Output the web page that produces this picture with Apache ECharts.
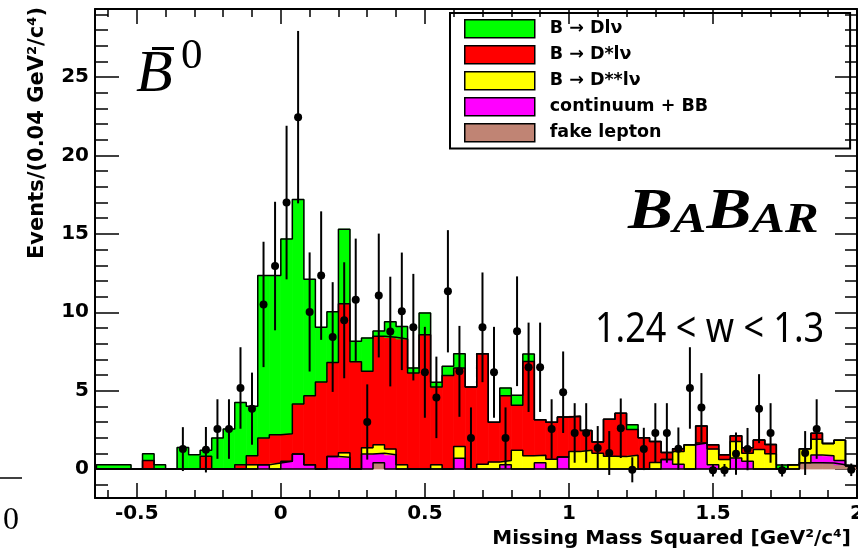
<!DOCTYPE html>
<html>
<head>
<meta charset="utf-8">
<script src="https://cdn.jsdelivr.net/npm/echarts@6/dist/echarts.min.js"></script>
<style>
  html, body { margin: 0; padding: 0; background: #fff; }
  #chart { width: 858px; height: 552px; }
</style>
</head>
<body>
<div id="chart"></div>
<script>
// binning of the missing mass squared histogram (GeV^2/c^4)
const binLow = -0.64
const binWidth = 0.04

// MC components per bin, stacking order bottom -> top
const fakeLepton = [0,0,0,0,0,0,0,0,0,0, 0,0,0,0,0,0,0,0,0,0, 0,0,0,0,0.4,0,0,0,0,0, 0,0,0,0,0,0,0,0,0,0, 0,0,0,0,0,0,0,0,0,0, 0,0,0,0,0,0,0,0,0,0, 0,0.4,0.4,0.38,0.27,0.2]
const continuum = [0,0,0,0,0,0,0,0,0,0, 0,0,0,0,0.27,0,0.49,0.95,0.27,0, 0.8,0.75,0,0.95,0.6,0.91,0,0,0,0, 0,0.68,0,0,0,0.27,0,0,0.4,0, 0.76,0,0,0,0,0,0,0,0,0.6, 0.3,0,1.66,0.27,0,0.7,0.49,0,0,0, 0,0,0.5,0.47,0.28,0]
const dssLnu = [0,0,0,0,0,0,0,0,0,0, 0,0,0,0.27,0,0.38,0,0,0,0, 0,0.28,0,0.4,0.55,0.37,0.27,0,0,0.27, 0,0.76,0,0.3,0.45,0.28,1.19,0.85,0.48,0.62, 0,1.12,1.19,1.0,0.82,0.8,0.88,0,0.42,0, 0.82,1.55,0,1.0,0.6,1.06,0.51,1.25,0.98,0, 0.27,0.9,1.0,0.78,1.29,0]
const dstLnu = [0,0,0,0,0.55,0,0,0,0,0.81, 0,0,0.27,0.58,1.71,1.81,1.76,3.2,4.41,5.55, 6.0,9.52,6.85,4.88,6.92,7.12,8.03,6.13,8.57,4.96, 5.96,5.01,5.23,7.06,2.53,4.13,2.87,6.01,2.27,2.36, 2.56,2.24,1.26,0.73,2.35,2.75,1.64,2.0,1.34,0.46, 0.18,0,1.08,0.28,0.31,0.36,0.36,0.6,0.59,0, 0,0,0.38,0,0,0]
const dLnu = [0.27,0.27,0.27,0,0.43,0.27,0,1.38,0.91,0.38, 1.98,2.55,3.98,3.15,10.36,10.15,12.43,13.05,7.42,3.49, 3.23,4.75,1.3,2.13,0.33,1.0,0.8,0.32,1.39,0.3, 0.59,0.91,0,0,0,0.49,0.64,0.47,0,0, 0,0,0,0,0,0,0.31,0,0,0, 0,0,0,0,0,0,0,0,0,0.25, 0,0,0,0,0,0]

// data points per bin (null = no marker)
const dataVal = [null,null,null,null,null,null,null,1.27,null,1.23, 2.55,2.55,5.17,3.85,10.5,12.95,17.0,22.45,10.02,12.34, 8.42,9.49,10.8,3.0,11.07,8.77,10.06,9.05,6.17,4.57, 11.34,6.23,1.98,9.04,6.17,1.98,8.79,6.49,6.49,2.55, 4.9,2.3,2.3,1.34,1.02,2.6,-0.05,1.28,2.3,2.3, 1.3,5.17,3.92,-0.08,-0.08,0.98,1.27,3.85,2.3,-0.08, null,1.02,2.55,null,null,-0.05]
const dataErr = [null,null,null,null,null,null,null,1.4,null,1.45, 1.9,1.9,2.6,2.3,4.0,4.1,4.9,5.5,3.8,4.1, 3.5,3.7,3.9,2.4,3.95,3.5,3.75,3.4,2.9,2.6, 3.9,2.9,1.95,3.5,2.9,1.95,3.5,2.85,2.85,1.9, 2.6,1.9,1.9,1.4,1.4,1.9,0.8,1.35,1.9,1.9, 1.35,2.6,2.2,0.4,0.4,1.35,1.35,2.2,1.9,0.4, null,1.4,1.9,null,null,0.4]

const names = ['fake lepton', 'continuum + BB', 'B → D**lν', 'B → D*lν', 'B → Dlν']
const colors = ['#c08474', '#ff00ff', '#ffff00', '#ff0000', '#00ff00']
const components = [fakeLepton, continuum, dssLnu, dstLnu, dLnu]

const xMajor = [-0.5, 0, 0.5, 1, 1.5, 2]
const xMinor = [-0.6,-0.5,-0.4,-0.3,-0.2,-0.1,0,0.1,0.2,0.3,0.4,0.5,0.6,0.7,0.8,0.9,1,1.1,1.2,1.3,1.4,1.5,1.6,1.7,1.8,1.9,2]
const yMajor = [0, 5, 10, 15, 20, 25]
const yMinor = [-1,0,1,2,3,4,5,6,7,8,9,10,11,12,13,14,15,16,17,18,19,20,21,22,23,24,25,26,27,28,29]

const xMin = -0.645, xMax = 2.0
const yMin = -1.85, yMax = 29.35

const nBins = fakeLepton.length
const edges = []
for (let i = 0; i <= nBins; i++) edges.push(+(binLow + i * binWidth).toFixed(2))

// cumulative stack (like THStack): level[k][i] = sum of components 0..k in bin i
const levels = []
components.forEach((vals, k) => {
  levels.push(vals.map((v, i) => +((k ? levels[k - 1][i] : 0) + v).toFixed(3)))
})

// outline of one cumulative histogram as a step line
function stepData(vals) {
  const pts = [[edges[0], 0]]
  vals.forEach((v, i) => pts.push([edges[i], v]))
  pts.push([edges[nBins], vals[nBins - 1]])
  pts.push([edges[nBins], 0])
  return pts
}

function renderBin(params, api) {
  const a = api.coord([api.value(0), api.value(3)])
  const b = api.coord([api.value(1), api.value(2)])
  if (Math.abs(b[1] - a[1]) < 0.01) return null
  const color = api.visual('color')
  return {
    type: 'rect',
    shape: { x: a[0], y: a[1], width: b[0] - a[0], height: b[1] - a[1] },
    style: { fill: color, stroke: color, lineWidth: 0.8 }
  }
}

const series = []
components.forEach((vals, k) => {
  const rows = vals.map((v, i) => [edges[i], edges[i + 1], k ? levels[k - 1][i] : 0, levels[k][i]])
  series.push({
    name: names[k], type: 'custom', renderItem: renderBin, data: rows,
    dimensions: ['x0', 'x1', 'lo', 'hi'], encode: { x: [0, 1], y: [2, 3] },
    itemStyle: { color: colors[k] }, silent: true, z: 2
  })
})
levels.forEach((lv, k) => {
  series.push({
    name: 'outline ' + k, type: 'line', step: 'end',
    data: stepData(lv), symbol: 'none', silent: true, z: 3,
    lineStyle: { width: 1.5, color: '#000' }
  })
})

const points = []
dataVal.forEach((v, i) => {
  if (v !== null) points.push([+(binLow + (i + 0.5) * binWidth).toFixed(3), v, dataErr[i]])
})
series.push({
  name: 'data', type: 'custom', data: points, z: 5, silent: true,
  dimensions: ['x', 'y', 'err'], encode: { x: 0, y: 1 },
  renderItem(params, api) {
    const x = api.value(0), y = api.value(1), e = api.value(2)
    const p = api.coord([x, y])
    const hi = api.coord([x, y + e])
    const lo = api.coord([x, y - e])
    return {
      type: 'group',
      children: [
        { type: 'line', shape: { x1: p[0], y1: hi[1], x2: p[0], y2: lo[1] }, style: { stroke: '#000', lineWidth: 2 } },
        { type: 'circle', shape: { cx: p[0], cy: p[1], r: 4 }, style: { fill: '#000' } }
      ]
    }
  }
})

const tickLine = { color: '#000', width: 1.5 }
const labelFont = { fontFamily: 'DejaVu Sans', fontWeight: 'bold', fontSize: 20, color: '#000' }

function axis(type, pos, grid, ticks, len, labels, line) {
  const a = {
    type: 'value', gridIndex: grid, position: pos,
    min: type === 'x' ? xMin : yMin, max: type === 'x' ? xMax : yMax,
    axisLine: { show: line, onZero: false, lineStyle: { color: '#000', width: 2 } },
    axisTick: { show: true, inside: true, length: len, customValues: ticks, lineStyle: tickLine },
    axisLabel: { show: false },
    splitLine: { show: false }
  }
  if (labels) a.axisLabel = Object.assign({ show: true, customValues: labels, margin: 6 }, labelFont)
  return a
}

const chart = echarts.init(document.getElementById('chart'), null, { renderer: 'canvas' })
chart.setOption({
  animation: false,
  backgroundColor: '#fff',
  grid: [
    { left: 95, right: 1, top: 9, bottom: 54, outerBoundsMode: 'none' },
    { left: 95, right: 1, top: 9, bottom: 54, outerBoundsMode: 'none' }
  ],
  xAxis: [
    axis('x', 'bottom', 0, xMajor, 15, xMajor, true),
    axis('x', 'top', 0, xMajor, 15, null, true),
    axis('x', 'bottom', 1, xMinor, 8, null, false),
    axis('x', 'top', 1, xMinor, 8, null, false)
  ],
  yAxis: [
    axis('y', 'left', 0, yMajor, 24, yMajor, true),
    axis('y', 'right', 0, yMajor, 22, null, true),
    axis('y', 'left', 1, yMinor, 13, null, false),
    axis('y', 'right', 1, yMinor, 12, null, false)
  ],
  legend: {
    orient: 'vertical', left: 450, top: 13,
    data: ['B → Dlν', 'B → D*lν', 'B → D**lν', 'continuum + BB', 'fake lepton'],
    icon: 'rect', itemWidth: 70, itemHeight: 18, itemGap: 6.5,
    padding: [6, 142, 6, 14],
    borderColor: '#000', borderWidth: 2,
    itemStyle: { borderColor: '#000', borderWidth: 1.5 },
    textStyle: { fontFamily: 'DejaVu Sans', fontWeight: 'bold', fontSize: 17.5, color: '#000', lineHeight: 18, padding: [0, 0, 0, 10] },
    selectedMode: false
  },
  series: series,
  graphic: [
    { type: 'text', x: 38, y: 7, rotation: Math.PI / 2,
      style: { text: 'Events/(0.04 GeV²/c⁴)', fontFamily: 'DejaVu Sans', fontWeight: 'bold', fontSize: 21, fill: '#000', align: 'right', verticalAlign: 'middle' } },
    { type: 'text', x: 851, y: 539,
      style: { text: 'Missing Mass Squared [GeV²/c⁴]', fontFamily: 'DejaVu Sans', fontWeight: 'bold', fontSize: 20, fill: '#000', align: 'right', verticalAlign: 'middle' } },
    { type: 'text', x: 136, y: 75,
      style: { text: 'B', fontFamily: 'Liberation Serif', fontStyle: 'italic', fontSize: 60, fill: '#000', align: 'left', verticalAlign: 'middle' } },
    { type: 'rect', shape: { x: 152, y: 47, width: 22, height: 3 }, style: { fill: '#000' } },
    { type: 'text', x: 181, y: 57,
      style: { text: '0', fontFamily: 'Liberation Serif', fontSize: 43, fill: '#000', align: 'left', verticalAlign: 'middle' } },
    { type: 'text', x: 628, y: 214, scaleX: 1.2,
      style: {
        text: '{b|B}{s|A}{b|B}{s|AR}', align: 'left', verticalAlign: 'middle',
        rich: {
          b: { fontFamily: 'Liberation Serif', fontStyle: 'italic', fontWeight: 'bold', fontSize: 56, fill: '#000', verticalAlign: 'bottom', lineHeight: 56 },
          s: { fontFamily: 'Liberation Serif', fontStyle: 'italic', fontWeight: 'bold', fontSize: 42, fill: '#000', verticalAlign: 'bottom', lineHeight: 50 }
        }
      } },
    { type: 'text', x: 595, y: 330, scaleY: 1.15,
      style: { text: '1.24 < w < 1.3', fontFamily: 'Noto Sans', fontSize: 36, fill: '#000', align: 'left', verticalAlign: 'middle' } },
    { type: 'line', shape: { x1: 0, y1: 478, x2: 22, y2: 478 }, style: { stroke: '#000', lineWidth: 1.5 } },
    { type: 'text', x: 3, y: 521,
      style: { text: '0', fontFamily: 'Liberation Serif', fontSize: 32, fill: '#000', align: 'left', verticalAlign: 'middle' } }
  ]
})
</script>
</body>
</html>
